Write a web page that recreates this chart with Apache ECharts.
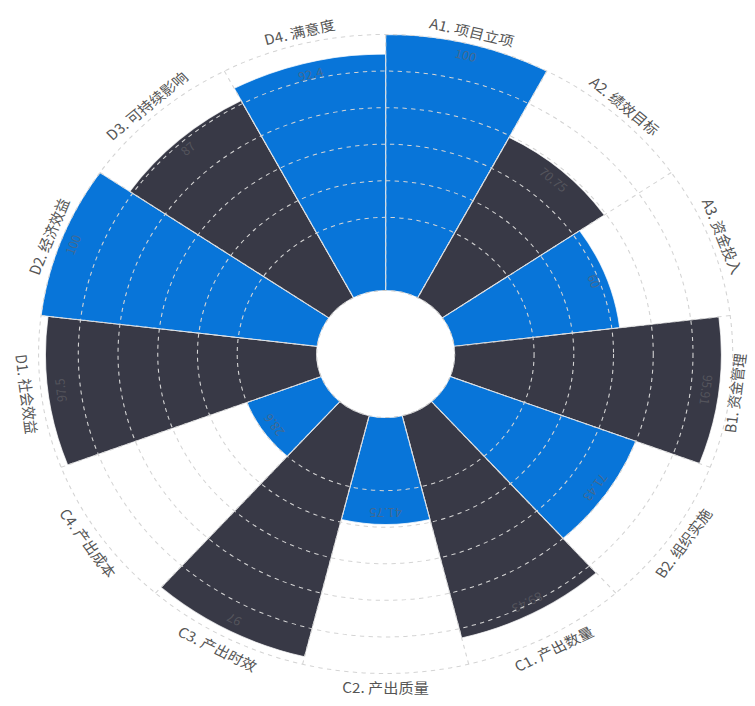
<!DOCTYPE html>
<html>
<head>
<meta charset="utf-8">
<script src="https://cdn.jsdelivr.net/npm/echarts@6/dist/echarts.min.js"></script>
<style>
  html, body { margin: 0; padding: 0; background: #fff; overflow: hidden; }
  #main { width: 695px; height: 706px; transform: scaleX(1.0863); transform-origin: 0 0; }
</style>
</head>
<body>
<div id="main"></div>
<script>
const categories = ['A1. 项目立项', 'A2. 绩效目标', 'A3. 资金投入', 'B1. 资金管理', 'B2. 组织实施',
  'C1. 产出数量', 'C2. 产出质量', 'C3. 产出时效', 'C4. 产出成本', 'D1. 社会效益',
  'D2. 经济效益', 'D3. 可持续影响', 'D4. 满意度'];
const values = [100, 70.75, 60, 95.91, 71.43, 89.43, 41.75, 97, 28.6, 97.5, 100, 87, 92.4];
const BLUE = '#0875d9';
const DARK = '#383946';
const barColors = [BLUE, DARK, BLUE, DARK, BLUE, DARK, BLUE, DARK, BLUE, DARK, BLUE, DARK, BLUE];

const FONT = "'Noto Sans CJK SC', 'Noto Sans', sans-serif";
const STRETCH = 1.0863;
const chart = echarts.init(document.getElementById('main'), null, { renderer: 'svg' });

const option = {
  backgroundColor: '#fff',
  animation: false,
  polar: { center: [355, 354], radius: [63.5, 319.5] },
  angleAxis: {
    type: 'category',
    data: categories,
    startAngle: 90,
    clockwise: true,
    boundaryGap: true,
    z: 3,
    axisLine: { show: false },
    axisTick: { show: false, interval: 0 },
    axisLabel: { show: false, interval: 0 },
    splitLine: { show: true, interval: 0, lineStyle: { color: '#d4d4d4', width: 1, type: [4, 4] } }
  },
  radiusAxis: {
    type: 'value',
    min: 0,
    max: 100,
    interval: 100 / 7,
    z: 3,
    axisLine: { show: false },
    axisTick: { show: false },
    axisLabel: { show: false },
    splitLine: {
      show: true,
      lineStyle: {
        color: ['#c8c8c8', 'rgba(0,0,0,0)', '#d4d4d4', '#d4d4d4', '#d4d4d4', '#d4d4d4', '#d4d4d4', '#d4d4d4'],
        width: 1,
        type: [4, 4]
      }
    }
  },
  series: [{
    type: 'bar',
    coordinateSystem: 'polar',
    barCategoryGap: '0%',
    data: values.map((v, i) => ({ value: v, itemStyle: { color: barColors[i] } })),
    itemStyle: { borderColor: 'rgba(255,255,255,0.75)', borderWidth: 1 },
    label: {
      show: true,
      position: 'insideEnd',
      color: 'rgba(100,100,105,0.65)',
      fontSize: 12,
      fontFamily: FONT
    }
  }]
};
chart.setOption(option);

const labelR = 105;
const LABEL_FONT = '14px ' + FONT;
const measureCtx = document.createElement('canvas').getContext('2d');
measureCtx.font = LABEL_FONT;
const maxX = 750 / STRETCH;
const minX = 4 / STRETCH;
const graphics = [];
categories.forEach(function (name) {
  try {
    const w = measureCtx.measureText(name).width;
    const h = 18;
    let r = labelR, p1, rot;
    for (let k = 0; k < 40; k++) {
      const p0 = chart.convertToPixel({ polarIndex: 0 }, [0, name]);
      p1 = chart.convertToPixel({ polarIndex: 0 }, [r, name]);
      const theta = Math.atan2(-(p1[1] - p0[1]), p1[0] - p0[0]);
      rot = theta >= 0 ? theta - Math.PI / 2 : theta + Math.PI / 2;
      const halfW = (w / 2) * Math.abs(Math.cos(rot)) + (h / 2) * Math.abs(Math.sin(rot));
      if (p1[0] + halfW <= maxX && p1[0] - halfW >= minX) break;
      r -= 0.5;
    }
    graphics.push({
      type: 'text',
      x: p1[0],
      y: p1[1],
      rotation: rot,
      silent: true,
      style: {
        text: name,
        fill: '#555',
        font: LABEL_FONT,
        align: 'center',
        verticalAlign: 'middle'
      }
    });
  } catch (e) {}
});
chart.setOption({ graphic: graphics });
</script>
</body>
</html>
